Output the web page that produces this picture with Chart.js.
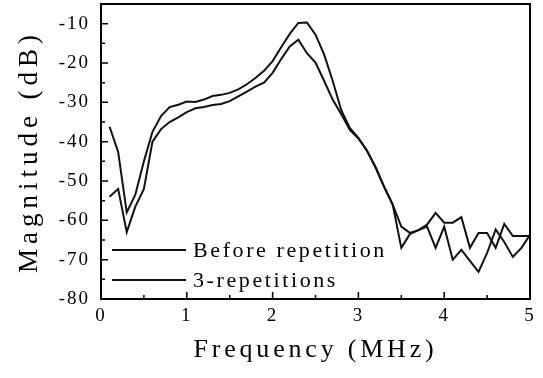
<!DOCTYPE html>
<html>
<head>
<meta charset="utf-8">
<script src="https://cdn.jsdelivr.net/npm/chart.js@4.4.1/dist/chart.umd.min.js"></script>
<style>
  html, body { margin: 0; padding: 0; background: #fff; }
  #wrap { width: 543px; height: 378px; position: relative; }
</style>
</head>
<body>
<div id="wrap"><canvas id="chart"></canvas></div>
<script>
// frequency in MHz, magnitude in dB
const freq = [
  0.1, 0.2, 0.3, 0.4, 0.5, 0.6, 0.7, 0.8, 0.9, 1.0,
  1.1, 1.2, 1.3, 1.4, 1.5, 1.6, 1.7, 1.8, 1.9, 2.0,
  2.1, 2.2, 2.3, 2.4, 2.5, 2.6, 2.7, 2.8, 2.9, 3.0,
  3.1, 3.2, 3.3, 3.4, 3.5, 3.6, 3.7, 3.8, 3.9, 4.0,
  4.1, 4.2, 4.3, 4.4, 4.5, 4.6, 4.7, 4.8, 4.9, 5.0
];
const beforeRepetition = [
  -36.2, -42.6, -58.0, -53.5, -45.0, -37.5, -33.5, -31.2, -30.6, -29.8,
  -29.9, -29.3, -28.4, -28.1, -27.6, -26.7, -25.4, -23.8, -22.0, -19.5,
  -16.0, -12.6, -9.8, -9.7, -12.8, -17.8, -24.5, -32.0, -36.5, -39.0,
  -42.3, -46.5, -51.5, -56.0, -61.6, -63.2, -62.5, -61.1, -58.1, -60.6,
  -60.6, -59.2, -67.0, -63.2, -63.2, -67.0, -60.9, -64.0, -64.0, -64.0
];
const threeRepetitions = [
  -54.0, -52.0, -63.0, -56.5, -52.0, -40.0, -36.8, -35.0, -33.8, -32.5,
  -31.5, -31.2, -30.7, -30.4, -29.7, -28.5, -27.3, -26.0, -25.0, -22.5,
  -19.0, -15.8, -14.1, -17.5, -19.9, -24.5, -29.3, -33.0, -37.0, -39.2,
  -42.3, -46.5, -51.5, -56.0, -67.0, -63.5, -62.5, -61.6, -67.0, -61.6,
  -70.0, -67.5, -70.3, -73.1, -68.3, -62.3, -65.5, -69.3, -67.0, -63.7
];
const seriesLabels = ["Before repetition", "3-repetitions"];

const serif = "'Liberation Serif', 'Times New Roman', serif";

// linear scale that lets the tick labels and titles be letter-spaced
const LinearScale = Chart.registry.getScale("linear");
class SpacedScale extends LinearScale {
    drawTitle() {
        this.ctx.save();
        this.ctx.letterSpacing = this.axis === "x" ? "3.8px" : "5px";
        super.drawTitle();
        this.ctx.restore();
    }
    drawLabels(area) {
        this.ctx.save();
        this.ctx.letterSpacing = "2px";
        super.drawLabels(area);
        this.ctx.restore();
    }
}
SpacedScale.id = "spacedLinear";
SpacedScale.defaults = LinearScale.defaults;
Chart.register(SpacedScale);

// box frame plus inward major/minor ticks
const frameTicks = {
    id: "frameTicks",
    afterDraw(chart) {
        const { ctx, chartArea: a, scales: { x, y } } = chart;
        ctx.save();
        ctx.strokeStyle = "#000";
        ctx.lineWidth = 2;
        ctx.strokeRect(a.left, a.top, a.right - a.left, a.bottom - a.top);
        ctx.lineWidth = 1.5;
        ctx.beginPath();
        x.ticks.forEach((t) => {
            const px = x.getPixelForValue(t.value);
            ctx.moveTo(px, a.bottom);
            ctx.lineTo(px, a.bottom - 7);
            if (t.value + 0.5 < x.max) {
                const mx = x.getPixelForValue(t.value + 0.5);
                ctx.moveTo(mx, a.bottom);
                ctx.lineTo(mx, a.bottom - 4);
            }
        });
        y.ticks.forEach((t) => {
            const py = y.getPixelForValue(t.value);
            ctx.moveTo(a.left, py);
            ctx.lineTo(a.left + 7, py);
            if (t.value + 5 < y.max) {
                const my = y.getPixelForValue(t.value + 5);
                ctx.moveTo(a.left, my);
                ctx.lineTo(a.left + 4, my);
            }
        });
        ctx.stroke();
        ctx.restore();
    },
};

// legend drawn inside the plot, lower left
const innerLegend = {
    id: "innerLegend",
    afterDraw(chart) {
        const { ctx, chartArea: a } = chart;
        ctx.save();
        ctx.font = "22px " + serif;
        ctx.letterSpacing = "2.6px";
        ctx.fillStyle = "#000";
        ctx.textBaseline = "middle";
        chart.data.datasets.forEach((ds, i) => {
            const ly = a.bottom - 49 + i * 30;
            ctx.strokeStyle = ds.borderColor;
            ctx.lineWidth = ds.borderWidth;
            ctx.beginPath();
            ctx.moveTo(a.left + 11, ly);
            ctx.lineTo(a.left + 85, ly);
            ctx.stroke();
            ctx.fillText(ds.label, a.left + 92, ly + 1);
        });
        ctx.restore();
    },
};

const toPoints = (ys) => freq.map((f, i) => ({ x: f, y: ys[i] }));

new Chart(document.getElementById("chart"), {
    type: "line",
    data: {
        datasets: [
            {
                label: seriesLabels[0],
                data: toPoints(beforeRepetition),
                borderColor: "#111",
                borderWidth: 2,
                pointRadius: 0,
                tension: 0,
            },
            {
                label: seriesLabels[1],
                data: toPoints(threeRepetitions),
                borderColor: "#111",
                borderWidth: 2,
                pointRadius: 0,
                tension: 0,
            },
        ],
    },
    options: {
        responsive: true,
        maintainAspectRatio: false,
        animation: false,
        layout: { padding: { top: 4, right: 13, left: 0, bottom: 0 } },
        plugins: {
            legend: { display: false },
            tooltip: { enabled: false },
        },
        scales: {
            x: {
                type: "spacedLinear",
                min: 0,
                max: 5,
                bounds: "data",
                grid: { display: false, drawTicks: false },
                border: { display: false },
                ticks: {
                    stepSize: 1,
                    padding: 6,
                    color: "#000",
                    font: { family: serif, size: 19 },
                },
                title: {
                    display: true,
                    text: "Frequency (MHz)",
                    color: "#000",
                    font: { family: serif, size: 26 },
                    padding: { top: 0, bottom: 12 },
                },
                afterFit(scale) {
                    scale.height = 79;
                    scale.paddingLeft = 0;
                    scale.paddingRight = 0;
                },
            },
            y: {
                type: "spacedLinear",
                min: -80,
                max: -5,
                bounds: "data",
                grid: { display: false, drawTicks: false },
                border: { display: false },
                ticks: {
                    stepSize: 10,
                    padding: 11,
                    color: "#000",
                    font: { family: serif, size: 19 },
                },
                // keep only the labelled decades, not the -5 bound
                afterBuildTicks(scale) {
                    scale.ticks = scale.ticks.filter((t) => t.value % 10 === 0);
                },
                title: {
                    display: true,
                    text: "Magnitude (dB)",
                    color: "#000",
                    font: { family: serif, size: 27 },
                    padding: { top: 14, bottom: 0 },
                },
                afterFit(scale) {
                    scale.width = 101;
                    scale.paddingTop = 0;
                    scale.paddingBottom = 0;
                },
            },
        },
    },
    plugins: [frameTicks, innerLegend],
});
</script>
</body>
</html>
